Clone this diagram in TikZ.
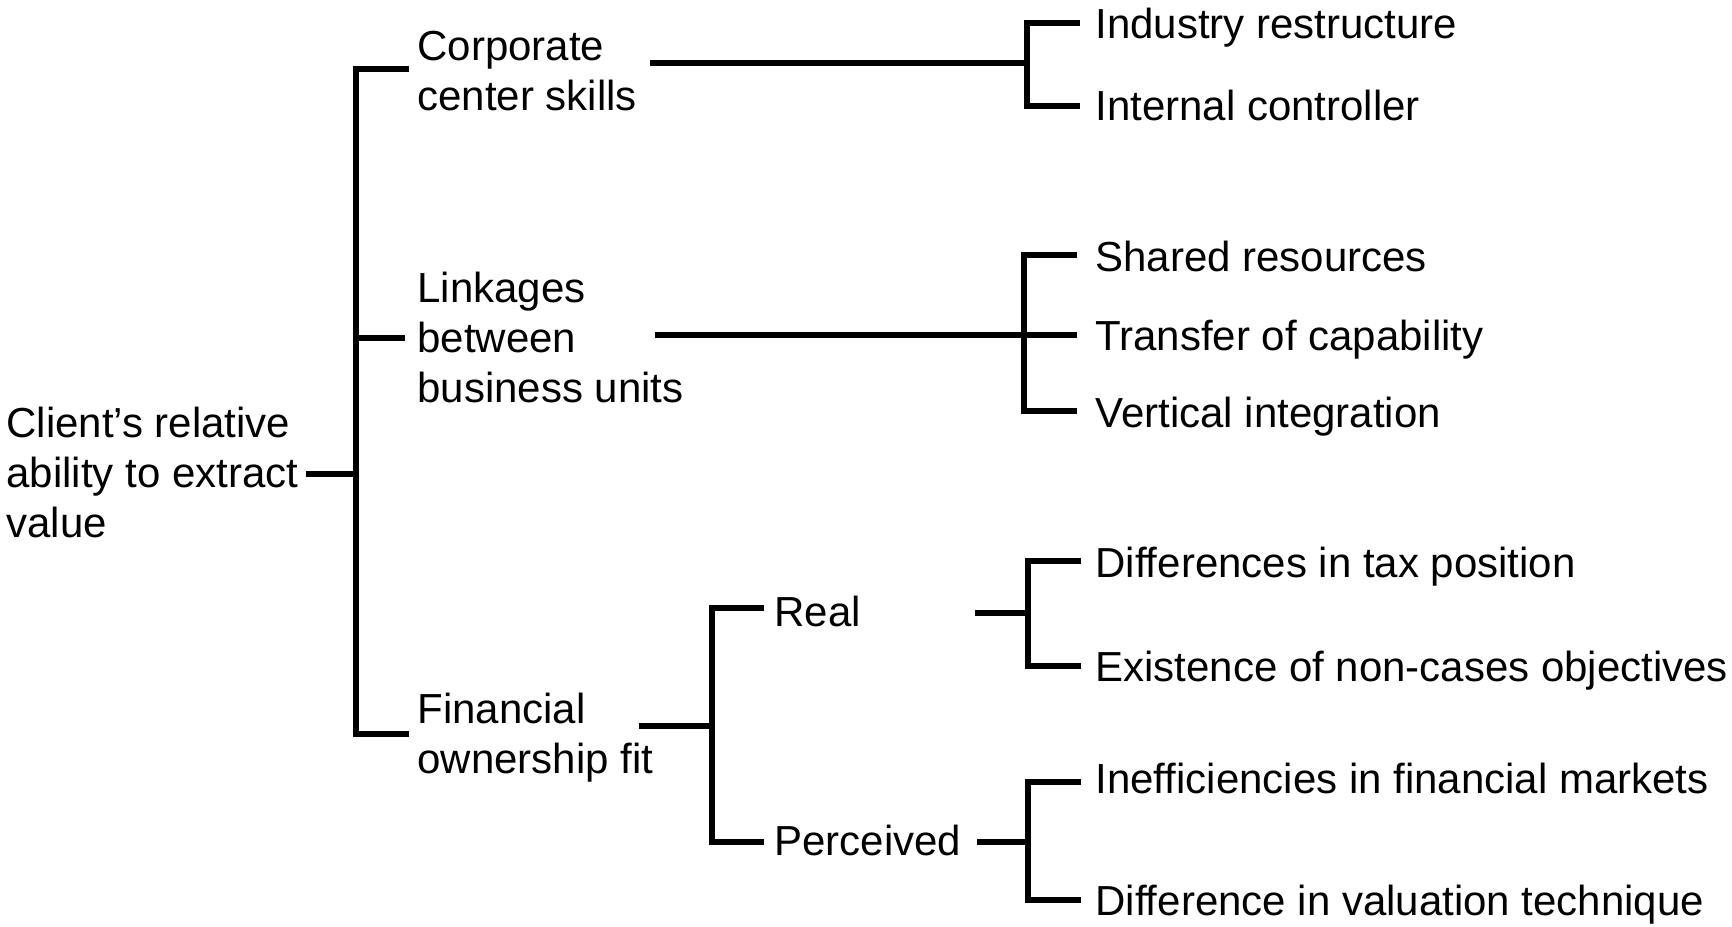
\documentclass[tikz,border=0pt]{standalone}
\usepackage{fontspec}
\setmainfont{Liberation Sans}
\newcommand{\stk}[1]{\vtop{\halign{##\hfil\cr#1\crcr}}}
\begin{document}
\begin{tikzpicture}[x=0.5pt,y=-0.5pt,
  lbl/.style={anchor=base west, inner sep=0pt, font=\fontsize{21}{25.2}\selectfont},
  conn/.style={line width=2.65pt, line cap=butt, line join=miter}]
\useasboundingbox (0,0) rectangle (1732,926);
% texts
\node[lbl] (root) at (6,437) {\stk{Client’s relative\cr ability to extract\cr value}};
\node[lbl] (ccs) at (417,60) {\stk{Corporate\cr center skills}};
\node[lbl] (lbu) at (417,302) {\stk{Linkages\cr between\cr business units}};
\node[lbl] (fof) at (417,723) {\stk{Financial\cr ownership fit}};
\node[lbl] (real) at (774,626) {Real};
\node[lbl] (perc) at (774,855) {Perceived};
\node[lbl] (ir) at (1095,39) {Industry restructure};
\node[lbl] (ic) at (1095,120) {Internal controller};
\node[lbl] (sr) at (1095,271) {Shared resources};
\node[lbl] (tc) at (1095,350) {Transfer of capability};
\node[lbl] (vi) at (1095,427) {Vertical integration};
\node[lbl] (dt) at (1095,577) {Differences in tax position};
\node[lbl] (en) at (1095,681) {Existence of non-cases objectives};
\node[lbl] (if) at (1095,793) {Inefficiencies in financial markets};
\node[lbl] (dv) at (1095,915) {Difference in valuation technique};
% root bracket
\coordinate (r0) at (306,474); \coordinate (rm) at (356,474);
\coordinate (rt) at (356,69); \coordinate (rb) at (356,734);
\coordinate (rtE) at (409,69); \coordinate (rbE) at (409,734);
\coordinate (rmid) at (356,338); \coordinate (rmidE) at (405,338);
\draw[conn] (r0) -- (rm);
\draw[conn] (rtE) -- (rt) -- (rb) -- (rbE);
\draw[conn] (rmid) -- (rmidE);
% corporate
\coordinate (c0) at (650,63); \coordinate (cm) at (1027,63);
\coordinate (ct) at (1027,23); \coordinate (cb) at (1027,106);
\coordinate (ctE) at (1080,23); \coordinate (cbE) at (1080,106);
\draw[conn] (c0) -- (cm);
\draw[conn] (ctE) -- (ct) -- (cb) -- (cbE);
% linkages
\coordinate (l0) at (655,335); \coordinate (lE) at (1077,335);
\coordinate (lt) at (1024,255); \coordinate (lb) at (1024,411);
\coordinate (ltE) at (1077,255); \coordinate (lbE) at (1077,411);
\draw[conn] (l0) -- (lE);
\draw[conn] (ltE) -- (lt) -- (lb) -- (lbE);
% financial
\coordinate (f0) at (639,726); \coordinate (fm) at (712,726);
\coordinate (ft) at (712,608); \coordinate (fb) at (712,842);
\coordinate (ftE) at (764,608); \coordinate (fbE) at (764,842);
\draw[conn] (f0) -- (fm);
\draw[conn] (ftE) -- (ft) -- (fb) -- (fbE);
% real
\coordinate (a0) at (975,613); \coordinate (am) at (1028,613);
\coordinate (at) at (1028,561); \coordinate (ab) at (1028,666);
\coordinate (atE) at (1081,561); \coordinate (abE) at (1081,666);
\draw[conn] (a0) -- (am);
\draw[conn] (atE) -- (at) -- (ab) -- (abE);
% perceived
\coordinate (p0) at (977,842); \coordinate (pm) at (1028,842);
\coordinate (pt) at (1028,782); \coordinate (pb) at (1028,900);
\coordinate (ptE) at (1081,782); \coordinate (pbE) at (1081,900);
\draw[conn] (p0) -- (pm);
\draw[conn] (ptE) -- (pt) -- (pb) -- (pbE);
\end{tikzpicture}
\end{document}
